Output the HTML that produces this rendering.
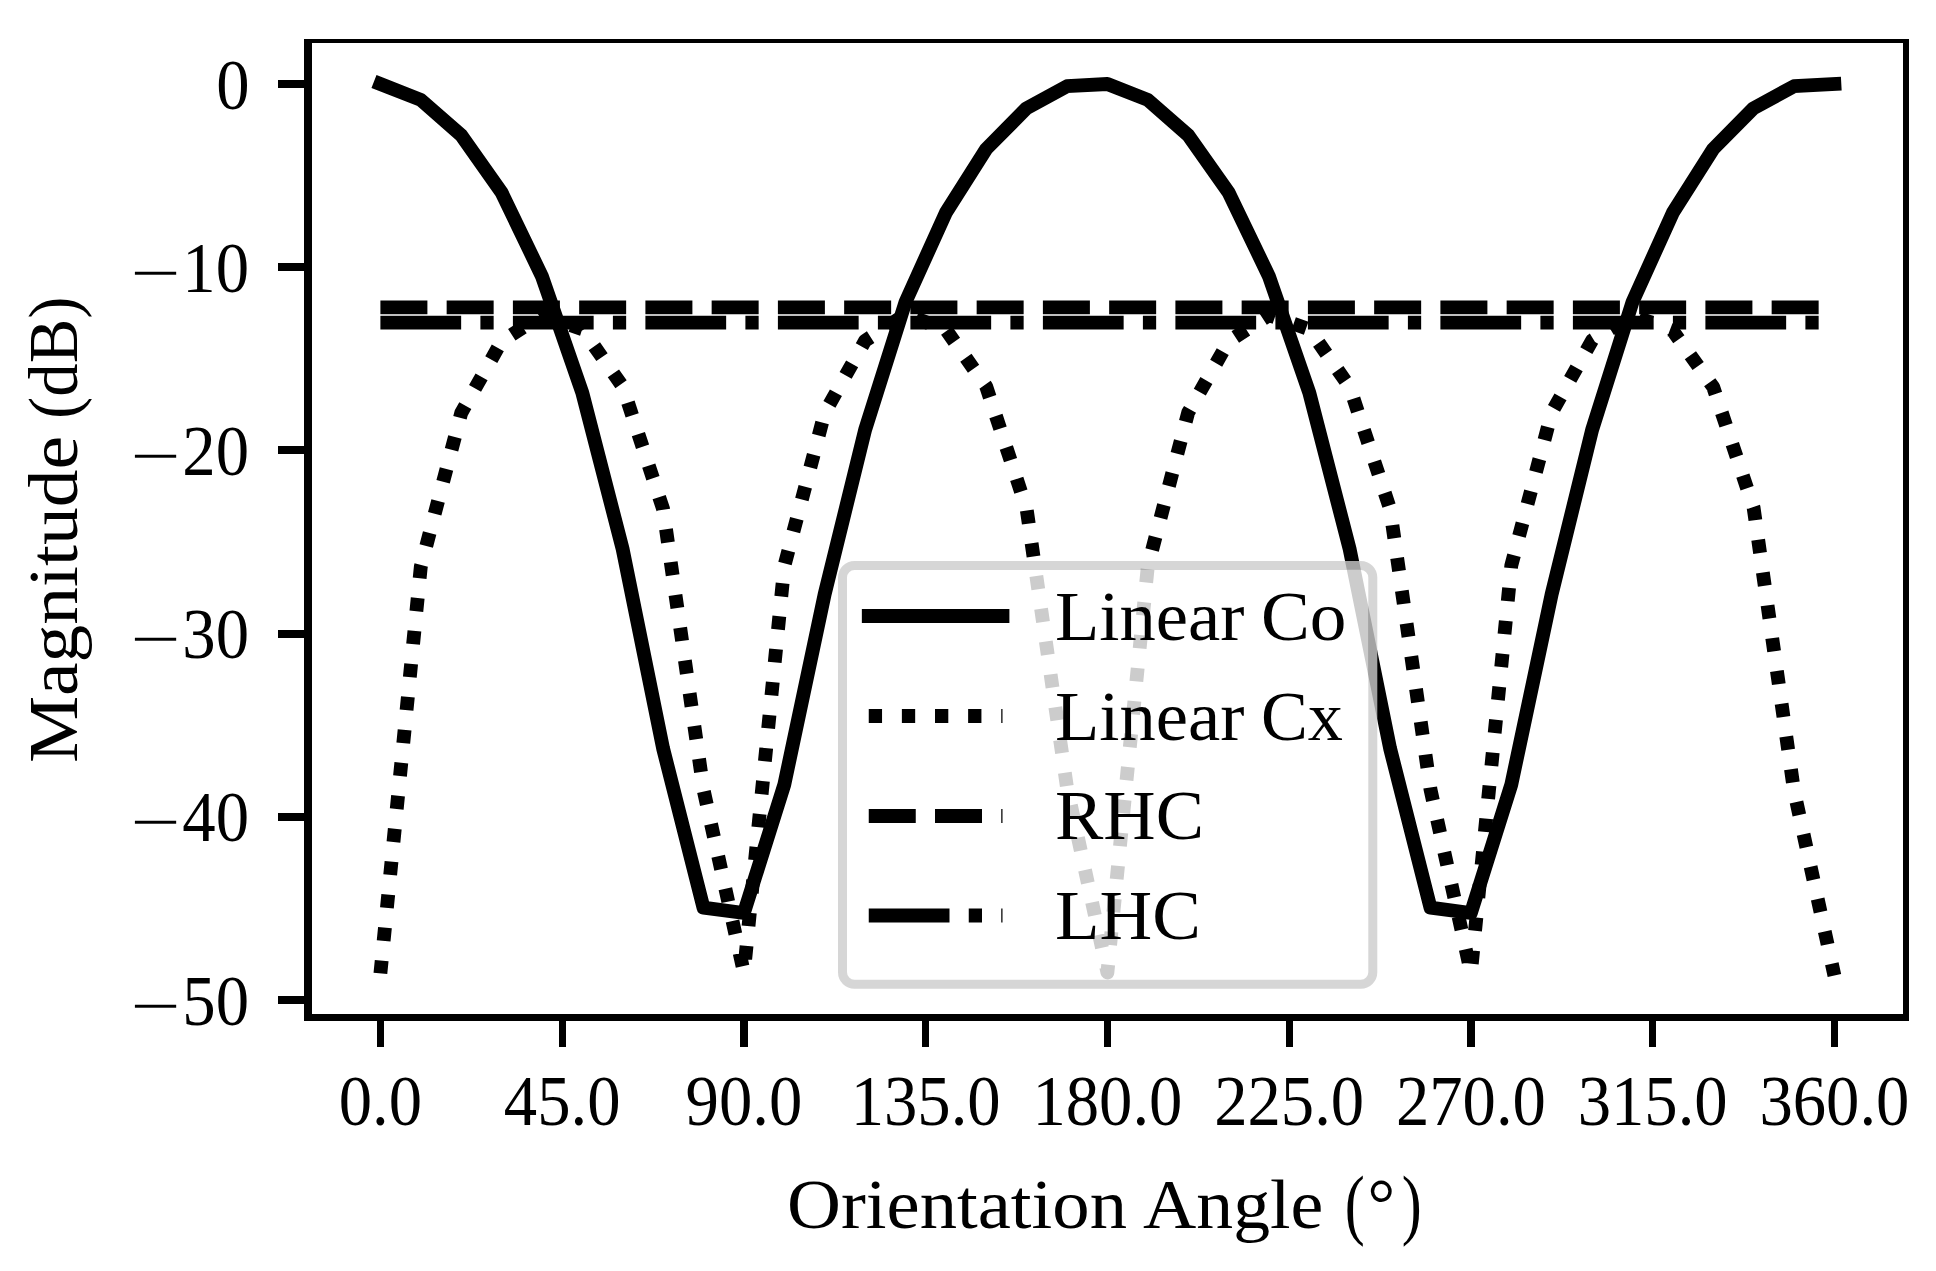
<!DOCTYPE html>
<html lang="en"><head><meta charset="utf-8"><title>Polarization orientation plot</title>
<style>html,body{margin:0;padding:0;background:#fff}body{width:1936px;height:1271px;overflow:hidden}svg{display:block}text{font-family:"Liberation Serif",serif;fill:#000}</style></head><body>
<svg width="1936" height="1271" viewBox="0 0 1936 1271">
<rect width="1936" height="1271" fill="#fff"/>
<defs><clipPath id="ax"><rect x="308" y="41" width="1598" height="976.5"/></clipPath></defs>
<g clip-path="url(#ax)" fill="none" stroke="#000" stroke-width="13.8" stroke-linejoin="round">
<polyline stroke-linecap="square" points="380.4,84.0 420.8,99.9 461.2,135.3 501.6,192.5 542.0,276.4 582.3,392.7 622.7,549.3 663.1,748.5 703.5,907.7 743.9,913.0 784.3,784.6 824.7,594.0 865.1,429.9 905.5,302.0 945.8,212.8 986.2,149.0 1026.6,108.2 1067.0,86.2 1107.4,84.0 1147.8,99.9 1188.2,135.3 1228.6,192.5 1269.0,276.4 1309.3,392.7 1349.7,549.3 1390.1,748.5 1430.5,907.7 1470.9,913.0 1511.3,784.6 1551.7,594.0 1592.1,429.9 1632.5,302.0 1672.8,212.8 1713.2,149.0 1753.6,108.2 1794.0,86.2 1834.4,84.0"/>
<polyline stroke-dasharray="13.3 19.825" stroke-dashoffset="0.4" points="380.4,973.4 420.8,566.7 461.2,413.0 501.6,341.2 542.0,315.4 582.3,329.1 622.7,386.6 663.1,509.0 703.5,789.7 743.9,972.5 784.3,566.2 824.7,412.8 865.1,340.7 905.5,314.6 945.8,329.5 986.2,386.5 1026.6,508.8 1067.0,787.5 1107.4,972.5 1147.8,566.5 1188.2,412.5 1228.6,341.4 1269.0,315.2 1309.3,329.3 1349.7,387.0 1390.1,509.0 1430.5,789.5 1470.9,972.7 1511.3,565.4 1551.7,412.5 1592.1,340.3 1632.5,315.4 1672.8,330.8 1713.2,387.0 1753.6,507.7 1794.0,790.6 1834.4,975.5"/>
<line x1="380.4" y1="307.3" x2="1834.4" y2="307.3" stroke-dasharray="47 19.25"/>
<line x1="380.4" y1="322.7" x2="1834.4" y2="322.7" stroke-dasharray="80.75 19.25 13.25 19.25"/>
</g>
<g fill="#000" shape-rendering="crispEdges">
<rect x="304" y="39" width="8" height="982"/>
<rect x="304" y="1014" width="1605" height="6.7"/>
<rect x="304" y="39" width="1605" height="4"/>
<rect x="1903" y="39" width="6" height="982"/>
<rect x="376.80" y="1017" width="7.2" height="30"/>
<rect x="558.55" y="1017" width="7.2" height="30"/>
<rect x="740.30" y="1017" width="7.2" height="30"/>
<rect x="922.05" y="1017" width="7.2" height="30"/>
<rect x="1103.80" y="1017" width="7.2" height="30"/>
<rect x="1285.55" y="1017" width="7.2" height="30"/>
<rect x="1467.30" y="1017" width="7.2" height="30"/>
<rect x="1649.05" y="1017" width="7.2" height="30"/>
<rect x="1830.80" y="1017" width="7.2" height="30"/>
<rect x="278" y="80.0" width="30" height="8"/>
<rect x="278" y="263.2" width="30" height="8"/>
<rect x="278" y="446.4" width="30" height="8"/>
<rect x="278" y="629.6" width="30" height="8"/>
<rect x="278" y="812.8" width="30" height="8"/>
<rect x="278" y="996.0" width="30" height="8"/>
</g>
<g font-size="72">
<text x="380.4" y="1124.5" text-anchor="middle" textLength="83.3" lengthAdjust="spacingAndGlyphs">0.0</text>
<text x="562.2" y="1124.5" text-anchor="middle" textLength="116.7" lengthAdjust="spacingAndGlyphs">45.0</text>
<text x="743.9" y="1124.5" text-anchor="middle" textLength="116.7" lengthAdjust="spacingAndGlyphs">90.0</text>
<text x="925.7" y="1124.5" text-anchor="middle" textLength="150.0" lengthAdjust="spacingAndGlyphs">135.0</text>
<text x="1107.4" y="1124.5" text-anchor="middle" textLength="150.0" lengthAdjust="spacingAndGlyphs">180.0</text>
<text x="1289.2" y="1124.5" text-anchor="middle" textLength="150.0" lengthAdjust="spacingAndGlyphs">225.0</text>
<text x="1470.9" y="1124.5" text-anchor="middle" textLength="150.0" lengthAdjust="spacingAndGlyphs">270.0</text>
<text x="1652.7" y="1124.5" text-anchor="middle" textLength="150.0" lengthAdjust="spacingAndGlyphs">315.0</text>
<text x="1834.4" y="1124.5" text-anchor="middle" textLength="150.0" lengthAdjust="spacingAndGlyphs">360.0</text>
<text x="249.5" y="108.5" text-anchor="end" textLength="33.3" lengthAdjust="spacingAndGlyphs">0</text>
<text><tspan x="130.5" y="292.8" font-size="60" textLength="50" lengthAdjust="spacingAndGlyphs">−</tspan><tspan x="182.3" y="291.7" textLength="66.7" lengthAdjust="spacingAndGlyphs">10</tspan></text>
<text><tspan x="130.5" y="476.0" font-size="60" textLength="50" lengthAdjust="spacingAndGlyphs">−</tspan><tspan x="182.3" y="474.9" textLength="66.7" lengthAdjust="spacingAndGlyphs">20</tspan></text>
<text><tspan x="130.5" y="659.2" font-size="60" textLength="50" lengthAdjust="spacingAndGlyphs">−</tspan><tspan x="182.3" y="658.1" textLength="66.7" lengthAdjust="spacingAndGlyphs">30</tspan></text>
<text><tspan x="130.5" y="842.4" font-size="60" textLength="50" lengthAdjust="spacingAndGlyphs">−</tspan><tspan x="182.3" y="841.3" textLength="66.7" lengthAdjust="spacingAndGlyphs">40</tspan></text>
<text><tspan x="130.5" y="1025.6" font-size="60" textLength="50" lengthAdjust="spacingAndGlyphs">−</tspan><tspan x="182.3" y="1024.5" textLength="66.7" lengthAdjust="spacingAndGlyphs">50</tspan></text>
</g>
<text font-size="69"><tspan x="787" y="1228" textLength="340" lengthAdjust="spacingAndGlyphs">Orientation</tspan> <tspan x="1143" y="1228" textLength="180.3" lengthAdjust="spacingAndGlyphs">Angle</tspan> <tspan x="1344.7" y="1230" font-size="78.5" textLength="20" lengthAdjust="spacingAndGlyphs">(</tspan><tspan x="1367.5" y="1226.5">°</tspan><tspan x="1401.8" y="1230" font-size="78.5" textLength="20" lengthAdjust="spacingAndGlyphs">)</tspan></text>
<g transform="translate(76.5,763) rotate(-90)"><text font-size="69"><tspan x="0" y="0" textLength="327" lengthAdjust="spacingAndGlyphs">Magnitude</tspan> <tspan x="344" y="0" textLength="122.5" lengthAdjust="spacingAndGlyphs">(dB)</tspan></text></g>
<rect x="846.7" y="569.7" width="521.9" height="410.4" rx="7.8" ry="7.8" fill="#fff" fill-opacity="0.8"/>
<rect x="842.5" y="565.5" width="530.3" height="418.8" rx="12" ry="12" fill="none" stroke="#ccc" stroke-opacity="0.8" stroke-width="9"/>
<g fill="none" stroke="#000" stroke-width="13.8">
<line x1="868.75" y1="616" x2="1002.5" y2="616" stroke-linecap="square"/>
<line x1="868.75" y1="716" x2="1002.5" y2="716" stroke-dasharray="13.3 19.825"/>
<line x1="868.75" y1="816" x2="1002.5" y2="816" stroke-dasharray="47 19.25"/>
<line x1="868.75" y1="915.5" x2="1002.5" y2="915.5" stroke-dasharray="80.75 19.25 13.25 19.25"/>
</g>
<g font-size="69">
<text><tspan x="1055" y="639.5" textLength="189.5" lengthAdjust="spacingAndGlyphs">Linear</tspan> <tspan x="1261" y="639.5" textLength="85.5" lengthAdjust="spacingAndGlyphs">Co</tspan></text>
<text><tspan x="1055" y="739.5" textLength="189.5" lengthAdjust="spacingAndGlyphs">Linear</tspan> <tspan x="1261" y="739.5" textLength="82" lengthAdjust="spacingAndGlyphs">Cx</tspan></text>
<text x="1055" y="839" textLength="149" lengthAdjust="spacingAndGlyphs">RHC</text>
<text x="1055" y="938.8" textLength="146" lengthAdjust="spacingAndGlyphs">LHC</text>
</g>
</svg></body></html>
